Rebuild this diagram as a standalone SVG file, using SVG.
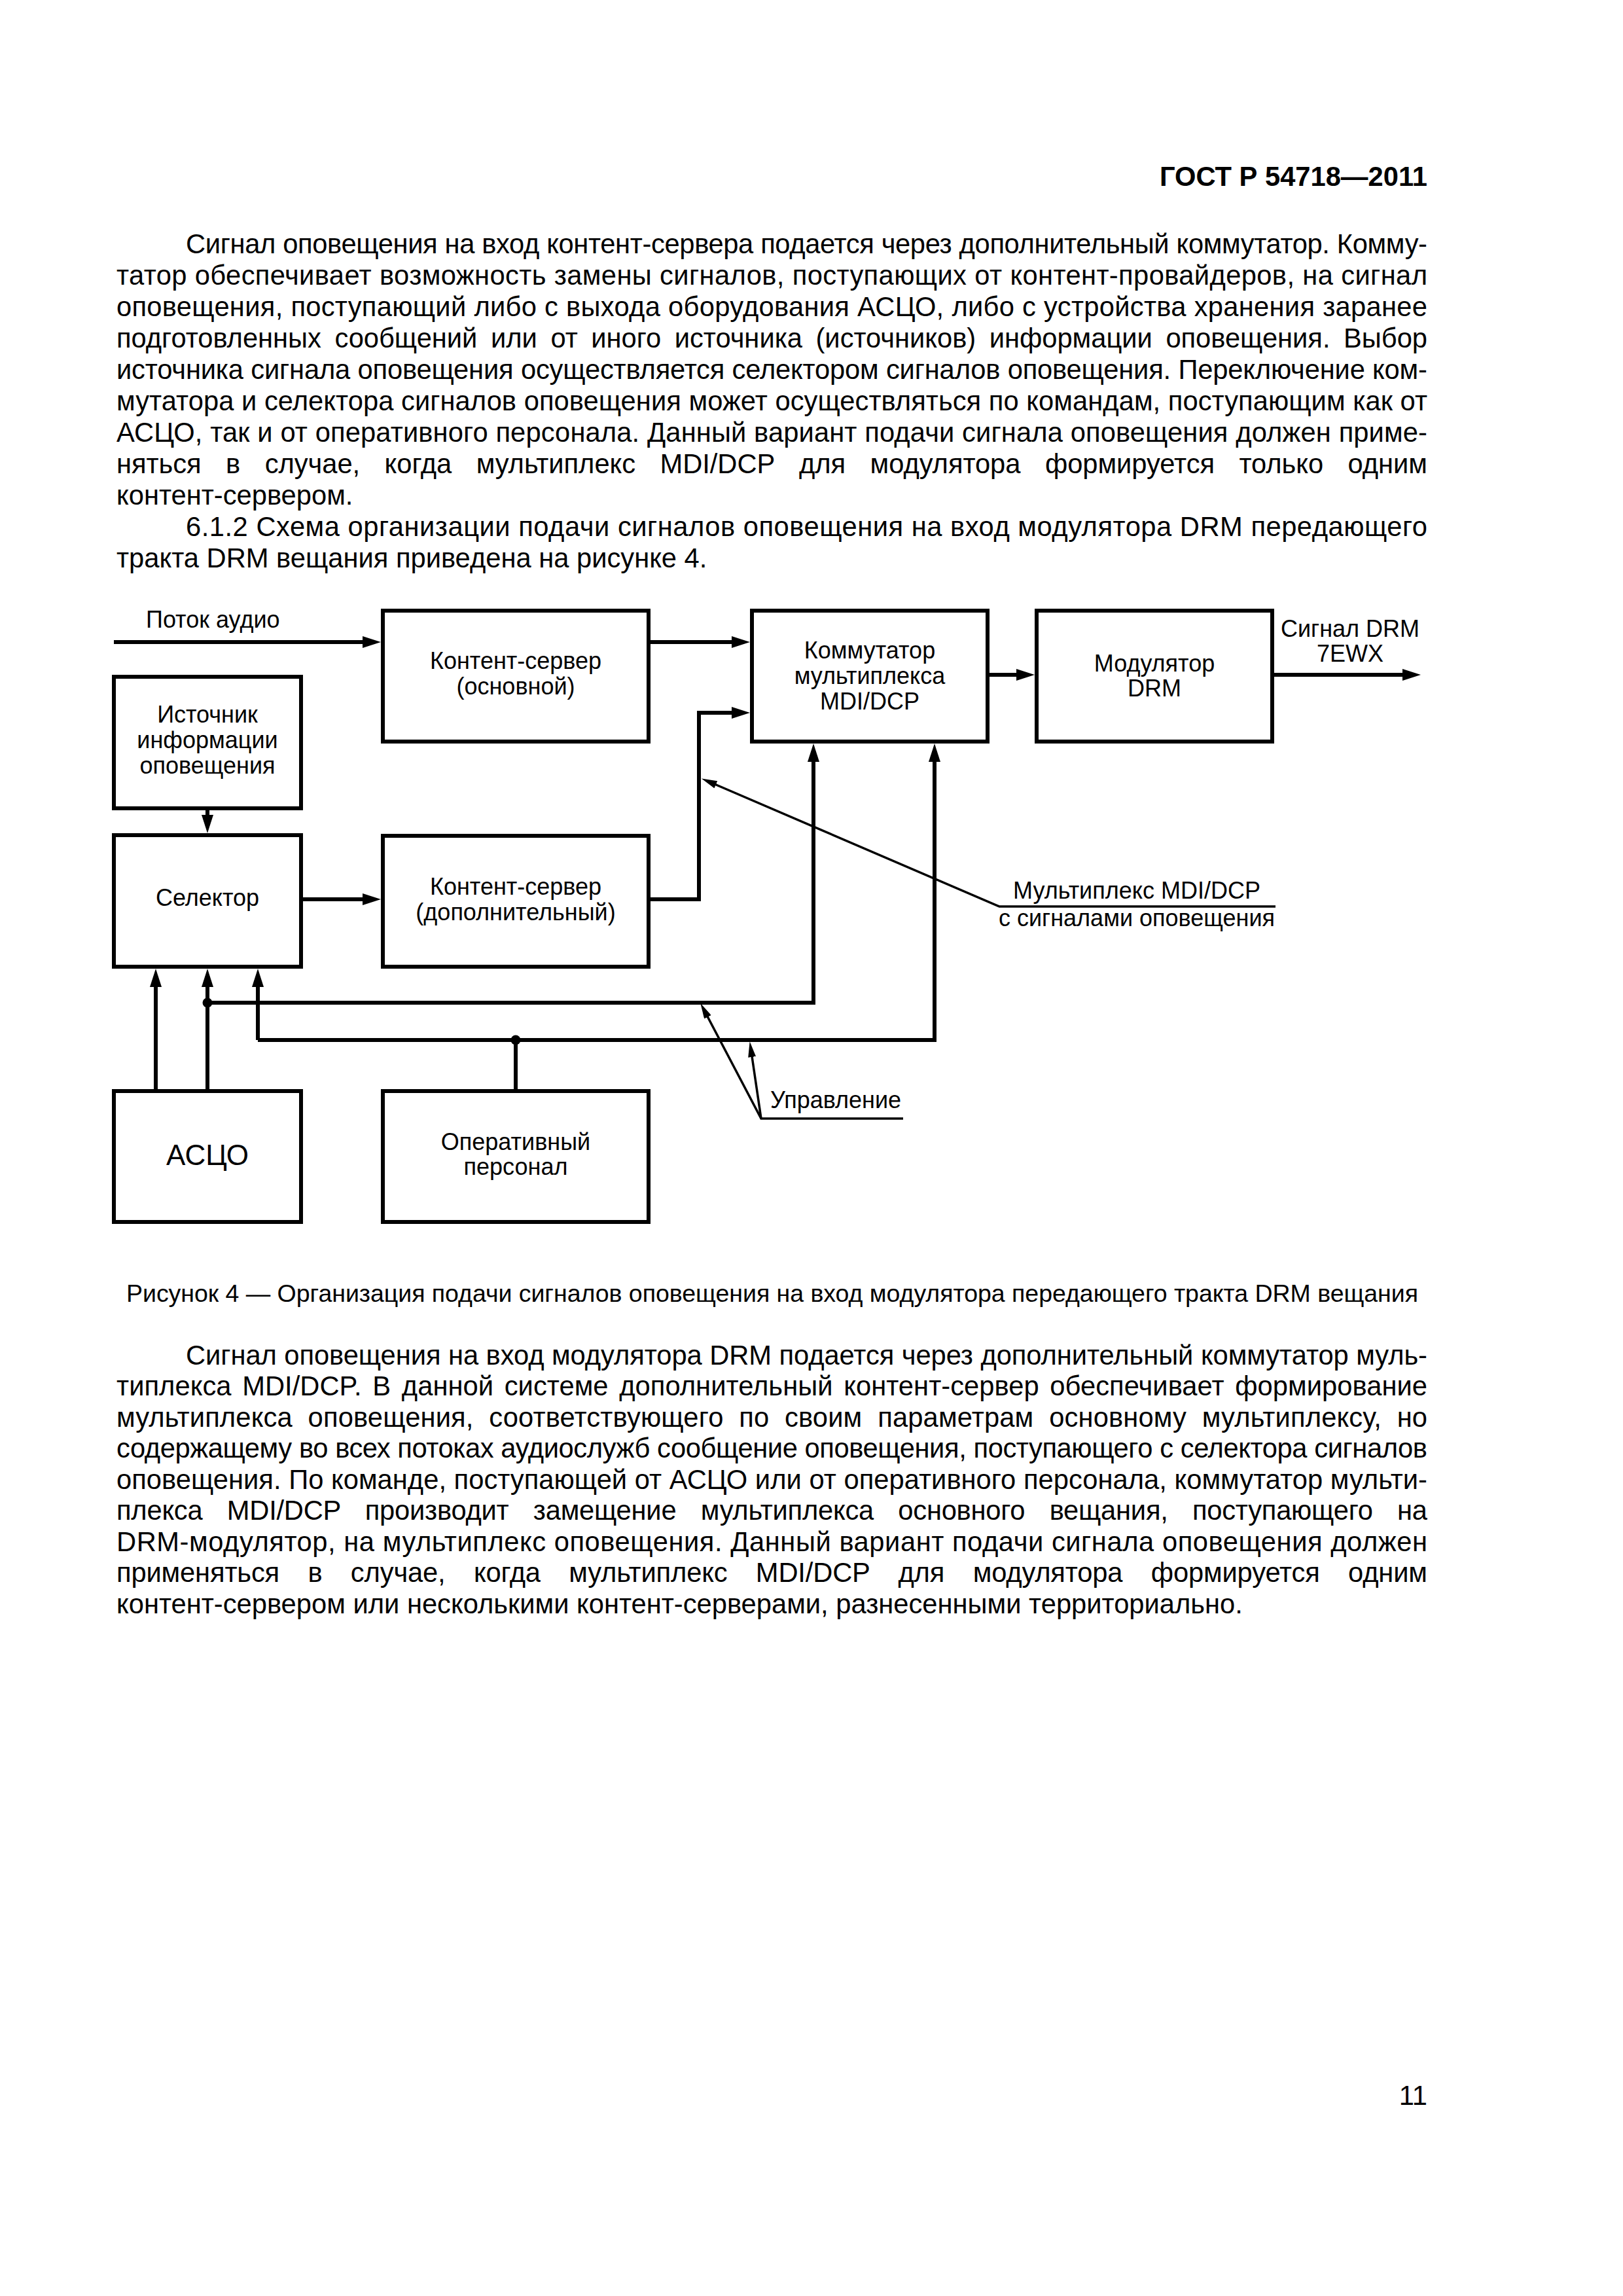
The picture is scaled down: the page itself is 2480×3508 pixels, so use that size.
<svg xmlns="http://www.w3.org/2000/svg" width="2480" height="3508" viewBox="0 0 2480 3508">
<style>
.box{fill:#fff;stroke:#000;stroke-width:6}
.c{fill:none;stroke:#000;stroke-width:6}
.t{fill:none;stroke:#000;stroke-width:3.5}
.lbl{font-family:"Liberation Sans",Arial,sans-serif;font-size:36px;fill:#000}
.mid{text-anchor:middle}
.big{font-size:44px}
.body{font-family:"Liberation Sans",Arial,sans-serif;font-size:41.7px;fill:#000}
.cap{font-family:"Liberation Sans",Arial,sans-serif;font-size:37.5px;fill:#000}
.hdr{font-family:"Liberation Sans",Arial,sans-serif;font-size:41.7px;font-weight:bold;fill:#000}
</style>
<defs>
<marker id="ah" markerUnits="userSpaceOnUse" markerWidth="28" markerHeight="18" refX="1" refY="9" orient="auto">
<path d="M0,0 L28,9 L0,18 z" fill="#000"/>
</marker>
<marker id="ahs" markerUnits="userSpaceOnUse" markerWidth="24" markerHeight="12" refX="1" refY="6" orient="auto">
<path d="M0,0 L24,6 L0,12 z" fill="#000"/>
</marker>
</defs>
<rect width="2480" height="3508" fill="#fff"/>

<g id="page-text">
<text class="hdr" x="2181" y="284" text-anchor="end">ГОСТ Р 54718—2011</text>
<text class="body" x="284" y="387" textLength="1897" lengthAdjust="spacing">Сигнал оповещения на вход контент-сервера подается через дополнительный коммутатор. Комму-</text>
<text class="body" x="178" y="435" textLength="2003" lengthAdjust="spacing">татор обеспечивает возможность замены сигналов, поступающих от контент-провайдеров, на сигнал</text>
<text class="body" x="178" y="483" textLength="2003" lengthAdjust="spacing">оповещения, поступающий либо с выхода оборудования АСЦО, либо с устройства хранения заранее</text>
<text class="body" x="178" y="531" word-spacing="9" textLength="2003" lengthAdjust="spacing">подготовленных сообщений или от иного источника (источников) информации оповещения. Выбор</text>
<text class="body" x="178" y="579" textLength="2003" lengthAdjust="spacing">источника сигнала оповещения осуществляется селектором сигналов оповещения. Переключение ком-</text>
<text class="body" x="178" y="627" textLength="2003" lengthAdjust="spacing">мутатора и селектора сигналов оповещения может осуществляться по командам, поступающим как от</text>
<text class="body" x="178" y="675" textLength="2003" lengthAdjust="spacing">АСЦО, так и от оперативного персонала. Данный вариант подачи сигнала оповещения должен приме-</text>
<text class="body" x="178" y="723" word-spacing="26" textLength="2003" lengthAdjust="spacing">няться в случае, когда мультиплекс MDI/DCP для модулятора формируется только одним</text>
<text class="body" x="178" y="771">контент-сервером.</text>
<text class="body" x="284" y="819" textLength="1897" lengthAdjust="spacing">6.1.2  Схема организации подачи сигналов оповещения на вход модулятора DRM передающего</text>
<text class="body" x="178" y="867">тракта DRM вещания приведена на рисунке 4.</text>

<text class="cap" x="193" y="1989" textLength="1974" lengthAdjust="spacing">Рисунок 4 — Организация подачи сигналов оповещения на вход модулятора передающего тракта DRM вещания</text>

<text class="body" x="284" y="2085" textLength="1897" lengthAdjust="spacing">Сигнал оповещения на вход модулятора DRM подается через дополнительный коммутатор муль-</text>
<text class="body" x="178" y="2132" word-spacing="5" textLength="2003" lengthAdjust="spacing">типлекса MDI/DCP. В данной системе дополнительный контент-сервер обеспечивает формирование</text>
<text class="body" x="178" y="2180" word-spacing="12" textLength="2003" lengthAdjust="spacing">мультиплекса оповещения, соответствующего по своим параметрам основному мультиплексу, но</text>
<text class="body" x="178" y="2227" textLength="2003" lengthAdjust="spacing">содержащему во всех потоках аудиослужб сообщение оповещения, поступающего с селектора сигналов</text>
<text class="body" x="178" y="2275" textLength="2003" lengthAdjust="spacing">оповещения. По команде, поступающей от АСЦО или от оперативного персонала, коммутатор мульти-</text>
<text class="body" x="178" y="2322" word-spacing="26" textLength="2003" lengthAdjust="spacing">плекса MDI/DCP производит замещение мультиплекса основного вещания, поступающего на</text>
<text class="body" x="178" y="2370" textLength="2003" lengthAdjust="spacing">DRM-модулятор, на мультиплекс оповещения. Данный вариант подачи сигнала оповещения должен</text>
<text class="body" x="178" y="2417" word-spacing="32" textLength="2003" lengthAdjust="spacing">применяться в случае, когда мультиплекс MDI/DCP для модулятора формируется одним</text>
<text class="body" x="178" y="2465">контент-сервером или несколькими контент-серверами, разнесенными территориально.</text>

<text class="body" x="2181" y="3216" text-anchor="end">11</text>
</g>

<g id="connectors">
<path class="c" d="M174,981 H555" marker-end="url(#ah)"/>
<path class="c" d="M994,981 H1119" marker-end="url(#ah)"/>
<path class="c" d="M1512,1031 H1554" marker-end="url(#ah)"/>
<path class="c" d="M1947,1031 H2144" marker-end="url(#ah)"/>
<path class="c" d="M317,1238 V1246" marker-end="url(#ah)"/>
<path class="c" d="M463,1374 H555" marker-end="url(#ah)"/>
<path class="c" d="M994,1374 H1068 V1089 H1119" marker-end="url(#ah)"/>
<path class="c" d="M238,1664 V1507" marker-end="url(#ah)"/>
<path class="c" d="M317,1664 V1507" marker-end="url(#ah)"/>
<path class="c" d="M317,1532 H1243 V1163" marker-end="url(#ah)"/>
<path class="c" d="M394,1589 V1507" marker-end="url(#ah)"/>
<path class="c" d="M394,1589 H1428 V1163" marker-end="url(#ah)"/>
<path class="c" d="M788,1664 V1589"/>
<circle cx="317" cy="1532" r="7.5" fill="#000"/>
<circle cx="788" cy="1589" r="7.5" fill="#000"/>
<path class="t" d="M1949,1385 H1527 L1093,1198.5" marker-end="url(#ahs)"/>
<path class="t" d="M1380,1709 H1163 L1081,1553" marker-end="url(#ahs)"/>
<path class="t" d="M1163,1709 L1149,1614" marker-end="url(#ahs)"/>
</g>

<g id="labels">
<text class="lbl" x="223" y="959">Поток аудио</text>
<text class="lbl mid" x="2063" y="973">Сигнал DRM</text>
<text class="lbl mid" x="2063" y="1011">7EWX</text>
<text class="lbl mid" x="1737" y="1373">Мультиплекс MDI/DCP</text>
<text class="lbl mid" x="1737" y="1415">с сигналами оповещения</text>
<text class="lbl" x="1177" y="1693">Управление</text>
</g>

<g id="node-source">
<rect class="box" x="174" y="1034" width="286" height="201"/>
<text class="lbl mid" x="317" y="1104">Источник</text>
<text class="lbl mid" x="317" y="1143">информации</text>
<text class="lbl mid" x="317" y="1182">оповещения</text>
</g>
<g id="node-selector">
<rect class="box" x="174" y="1276" width="286" height="201"/>
<text class="lbl mid" x="317" y="1384">Селектор</text>
</g>
<g id="node-asco">
<rect class="box" x="174" y="1667" width="286" height="200"/>
<text class="lbl mid big" x="317" y="1780">АСЦО</text>
</g>
<g id="node-cs-main">
<rect class="box" x="585" y="933" width="406" height="200"/>
<text class="lbl mid" x="788" y="1022">Контент-сервер</text>
<text class="lbl mid" x="788" y="1061">(основной)</text>
</g>
<g id="node-cs-add">
<rect class="box" x="585" y="1277" width="406" height="200"/>
<text class="lbl mid" x="788" y="1367">Контент-сервер</text>
<text class="lbl mid" x="788" y="1406">(дополнительный)</text>
</g>
<g id="node-staff">
<rect class="box" x="585" y="1667" width="406" height="200"/>
<text class="lbl mid" x="788" y="1757">Оперативный</text>
<text class="lbl mid" x="788" y="1795">персонал</text>
</g>
<g id="node-switch">
<rect class="box" x="1149" y="933" width="360" height="200"/>
<text class="lbl mid" x="1329" y="1006">Коммутатор</text>
<text class="lbl mid" x="1329" y="1045">мультиплекса</text>
<text class="lbl mid" x="1329" y="1084">MDI/DCP</text>
</g>
<g id="node-modulator">
<rect class="box" x="1584" y="933" width="360" height="200"/>
<text class="lbl mid" x="1764" y="1026">Модулятор</text>
<text class="lbl mid" x="1764" y="1064">DRM</text>
</g>
</svg>
